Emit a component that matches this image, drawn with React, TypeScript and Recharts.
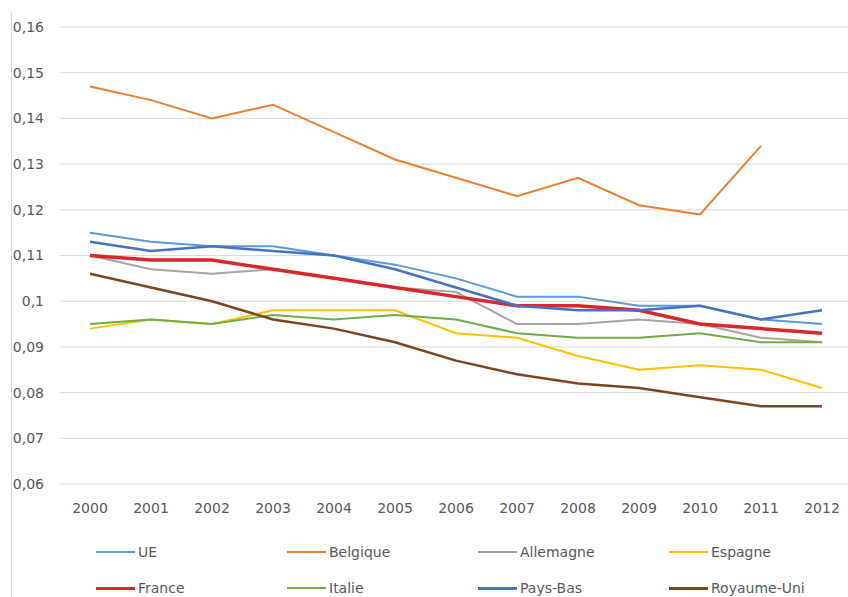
import React from "react";
import { LineChart, Line, XAxis, YAxis, CartesianGrid, Legend } from "recharts";

const years = ["2000","2001","2002","2003","2004","2005","2006","2007","2008","2009","2010","2011","2012"];
const ue = [0.115,0.113,0.112,0.112,0.110,0.108,0.105,0.101,0.101,0.099,0.099,0.096,0.095];
const belgique = [0.147,0.144,0.140,0.143,0.137,0.131,0.127,0.123,0.127,0.121,0.119,0.134,null];
const allemagne = [0.110,0.107,0.106,0.107,0.105,0.103,0.102,0.095,0.095,0.096,0.095,0.092,0.091];
const espagne = [0.094,0.096,0.095,0.098,0.098,0.098,0.093,0.092,0.088,0.085,0.086,0.085,0.081];
const france = [0.110,0.109,0.109,0.107,0.105,0.103,0.101,0.099,0.099,0.098,0.095,0.094,0.093];
const italie = [0.095,0.096,0.095,0.097,0.096,0.097,0.096,0.093,0.092,0.092,0.093,0.091,0.091];
const paysBas = [0.113,0.111,0.112,0.111,0.110,0.107,0.103,0.099,0.098,0.098,0.099,0.096,0.098];
const royaumeUni = [0.106,0.103,0.100,0.096,0.094,0.091,0.087,0.084,0.082,0.081,0.079,0.077,0.077];
const yTicks = [0.06,0.07,0.08,0.09,0.1,0.11,0.12,0.13,0.14,0.15,0.16];

const series = [
  { key: "UE", values: ue, color: "#5B9BD5", width: 2 },
  { key: "Belgique", values: belgique, color: "#ED7D31", width: 2 },
  { key: "Allemagne", values: allemagne, color: "#A5A5A5", width: 2 },
  { key: "Espagne", values: espagne, color: "#FFC000", width: 2 },
  { key: "France", values: france, color: "#D9262B", width: 3.5 },
  { key: "Italie", values: italie, color: "#70AD47", width: 2 },
  { key: "Pays-Bas", values: paysBas, color: "#4472C4", width: 2.5 },
  { key: "Royaume-Uni", values: royaumeUni, color: "#7B4522", width: 2.5 },
];

const data = years.map((y, i) => {
  const row: any = { year: y };
  series.forEach((s) => { row[s.key] = s.values[i]; });
  return row;
});

const FONT = "'DejaVu Sans', sans-serif";

const renderLegend = () => (
  <div style={{ display: "grid", gridTemplateColumns: "191px 191px 191px 191px", paddingLeft: 96, fontFamily: FONT, fontSize: 14, color: "#595959" }}>
    {series.map((s) => (
      <div key={s.key} style={{ display: "flex", alignItems: "center", height: 36, lineHeight: "16px" }}>
        <div style={{ width: 39, height: s.width >= 2.5 ? 3 : 2, background: s.color, marginRight: 3 }} />
        <span>{s.key}</span>
      </div>
    ))}
  </div>
);

export default function App() {
  return (
    <div style={{ position: "absolute", left: 0, top: 0, width: 848, height: 597, overflow: "hidden", background: "#fff" }}>
      <div style={{ position: "absolute", left: 11, top: 12, width: 0, height: 585, borderLeft: "1px solid #D9D9D9" }} />
      <LineChart width={860} height={597} data={data} margin={{ top: 27, right: 8, bottom: 83, left: 0 }}>
        <CartesianGrid vertical={false} stroke="#D9D9D9" strokeWidth={1} />
        <XAxis
          dataKey="year"
          scale="point"
          padding={{ left: 30, right: 30 }}
          axisLine={false}
          tickLine={false}
          tickSize={0}
          tickMargin={19}
          height={30}
          interval={0}
          tick={{ fill: "#595959", fontSize: 14, fontFamily: FONT }}
        />
        <YAxis
          domain={[0.06, 0.16]}
          ticks={yTicks}
          width={60}
          axisLine={false}
          tickLine={false}
          tickSize={0}
          tickMargin={16}
          interval={0}
          tickFormatter={(v: number) => String(v).replace(".", ",")}
          tick={{ fill: "#595959", fontSize: 14, fontFamily: FONT }}
        />
        <Legend
          layout="horizontal"
          verticalAlign="middle"
          align="center"
          content={renderLegend}
          wrapperStyle={{ position: "absolute", left: 0, top: 534, width: 848, height: 72 }}
        />
        {series.map((s) => (
          <Line
            key={s.key}
            type="linear"
            dataKey={s.key}
            stroke={s.color}
            strokeWidth={s.width}
            dot={false}
            activeDot={false}
            isAnimationActive={false}
          />
        ))}
      </LineChart>
    </div>
  );
}
